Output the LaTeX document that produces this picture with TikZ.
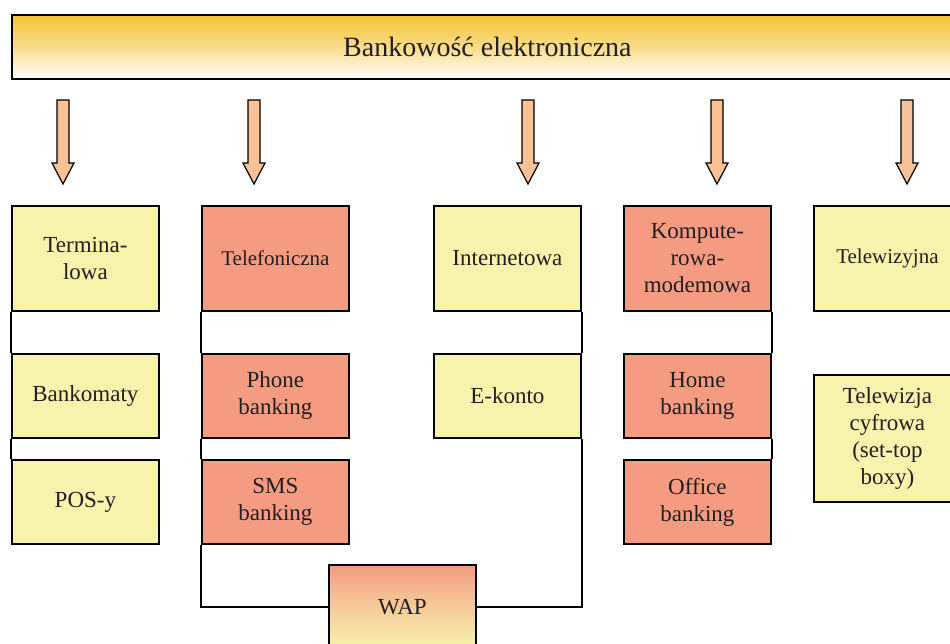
\documentclass[tikz,border=0pt]{standalone}
\usepackage{fontspec}
\setmainfont{Liberation Serif}
\begin{document}
\definecolor{boxyellow}{HTML}{F7F3AD}
\definecolor{boxsalmon}{HTML}{F49B82}
\definecolor{arrowpeach}{HTML}{F9C196}
\definecolor{bannertop}{HTML}{F4C432}
\definecolor{bannermid}{HTML}{F9DC8A}
\definecolor{ink}{HTML}{231F20}
\begin{tikzpicture}[x=1pt,y=-1pt,
  box/.style={draw=black, line width=1.8pt, anchor=north west, inner sep=2pt,
    minimum width=147pt, text width=140pt, align=center, text=ink,
    font=\rmfamily\fontsize{23}{27}\selectfont},
  tallbox/.style={box, minimum height=105pt},
  lowbox/.style={box, minimum height=84pt},
  yel/.style={fill=boxyellow},
  sal/.style={fill=boxsalmon},
  small/.style={font=\rmfamily\fontsize{21}{25}\selectfont},
  link/.style={draw=black, line width=1.6pt},
  downarrow/.pic={
    \draw[fill=arrowpeach, draw=black, line width=1.2pt, line join=miter]
      (-6,0) -- (6,0) -- (6,63) -- (11,63) -- (0,84) -- (-11,63) -- (-6,63) -- cycle;
  }]
\useasboundingbox (0,0) rectangle (950,644);
\clip (0,0) rectangle (950,644);

% title banner
\node[draw=black, line width=1.8pt, anchor=north west, minimum width=951pt,
  minimum height=64pt, inner sep=0pt, top color=bannertop, bottom color=white,
  middle color=bannermid, text=ink, font=\rmfamily\fontsize{28}{32}\selectfont]
  (title) at (11,14) {Bankowość elektroniczna};

% block arrows under the banner
\foreach \x in {63,254,528,717,907} \pic at (\x,100) {downarrow};

% column 1
\node[tallbox, yel] (term) at (11,205) {Termina-\\lowa};
\node[lowbox, yel] (bank) at (11,353) {Bankomaty};
\node[lowbox, yel] (pos)  at (11,459) {POS-y};

% column 2
\node[tallbox, sal, small] (tel) at (201,205) {Telefoniczna};
\node[lowbox, sal] (phone) at (201,353) {Phone\\banking};
\node[lowbox, sal] (sms)   at (201,459) {SMS\\banking};

% column 3
\node[tallbox, yel] (inet)   at (433,205) {Internetowa};
\node[lowbox, yel]  (ekonto) at (433,353) {E-konto};

% column 4
\node[tallbox, sal] (komp)   at (623,205) {Kompute-\\rowa-\\modemowa};
\node[lowbox, sal]  (home)   at (623,353) {Home\\banking};
\node[lowbox, sal]  (office) at (623,459) {Office\\banking};

% column 5
\node[tallbox, yel, small] (tv) at (813,205) {Telewizyjna};
\node[box, yel, minimum height=127pt] (tvc) at (813,374) {Telewizja\\cyfrowa\\(set-top\\boxy)};

% shared WAP box
\node[lowbox, draw=black, top color=boxsalmon, bottom color=boxyellow,
  middle color=boxsalmon!45!boxyellow] (wap) at (328,564) {WAP};

% connectors
\draw[link] (term.south west) -- (bank.north west);
\draw[link] (bank.south west) -- (pos.north west);
\draw[link] (tel.south west) -- (phone.north west);
\draw[link] (phone.south west) -- (sms.north west);
\draw[link] (sms.south west) |- (wap.west);
\draw[link] (inet.south east) -- (ekonto.north east);
\draw[link] (ekonto.south east) |- (wap.east);
\draw[link] (komp.south east) -- (home.north east);
\draw[link] (home.south east) -- (office.north east);
\end{tikzpicture}
\end{document}
